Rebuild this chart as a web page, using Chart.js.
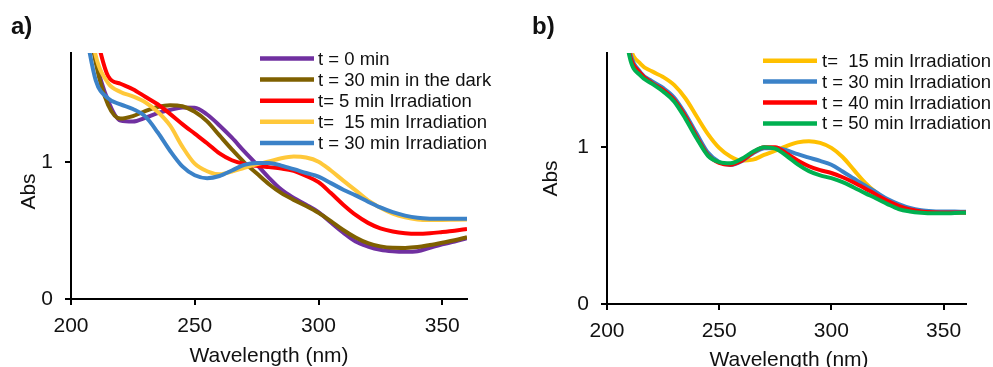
<!DOCTYPE html>
<html><head><meta charset="utf-8">
<script src="https://cdn.jsdelivr.net/npm/chart.js@4"></script>
<style>
html,body{margin:0;padding:0;background:#fff;width:993px;height:367px;overflow:hidden}
#wa{position:absolute;left:0;top:0;width:497px;height:367px}
#wb{position:absolute;left:497px;top:0;width:496px;height:367px}
</style></head><body>
<div id="wa"><canvas id="ca"></canvas></div>
<div id="wb"><canvas id="cb"></canvas></div>
<script>
// Wavelength (nm)
const wavelengths = [205,210,215,220,225,230,235,240,245,250,255,260,265,270,275,280,285,290,295,300,305,310,315,320,325,330,335,340,345,350,355,360];
const xTicks = [200,250,300,350];
const yTicks = [0,1];

// Panel a
const labelsA = ["t = 0 min","t = 30 min in the dark","t= 5 min Irradiation","t=  15 min Irradiation","t = 30 min Irradiation"];
const aT0    = [2.3,1.75,1.45,1.305,1.298,1.325,1.36,1.383,1.401,1.40,1.35,1.27,1.18,1.08,0.985,0.887,0.80,0.74,0.69,0.635,0.56,0.485,0.42,0.384,0.36,0.349,0.345,0.35,0.375,0.40,0.42,0.445];
const aDark  = [2.3,1.73,1.42,1.32,1.338,1.375,1.405,1.418,1.41,1.37,1.30,1.197,1.095,1.0,0.92,0.84,0.775,0.725,0.68,0.63,0.57,0.505,0.45,0.408,0.385,0.375,0.374,0.38,0.395,0.412,0.43,0.452];
const aIrr5  = [2.4,1.95,1.63,1.575,1.535,1.48,1.425,1.355,1.28,1.21,1.14,1.065,1.015,0.988,0.975,0.965,0.955,0.937,0.90,0.855,0.775,0.69,0.615,0.557,0.517,0.494,0.481,0.477,0.481,0.49,0.50,0.512];
const aIrr15 = [2.3,1.78,1.58,1.515,1.483,1.44,1.37,1.27,1.115,0.99,0.935,0.913,0.932,0.96,0.985,1.006,1.03,1.042,1.035,1.005,0.94,0.866,0.795,0.722,0.668,0.625,0.598,0.582,0.578,0.578,0.58,0.582];
const aIrr30 = [2.05,1.6,1.468,1.424,1.39,1.336,1.22,1.085,0.97,0.905,0.884,0.90,0.94,0.982,0.996,0.996,0.976,0.95,0.922,0.895,0.848,0.80,0.758,0.712,0.67,0.635,0.61,0.594,0.588,0.587,0.587,0.587];
const colorsA = ["#7030A0","#7F6000","#FF0000","#FFC83A","#3B82C8"];

// Panel b
const labelsB = ["t=  15 min Irradiation","t = 30 min Irradiation","t = 40 min Irradiation","t = 50 min Irradiation"];
const bIrr15 = [2.2,1.66,1.53,1.483,1.447,1.395,1.31,1.195,1.083,0.995,0.94,0.913,0.92,0.95,0.977,1.007,1.03,1.038,1.027,0.995,0.937,0.855,0.774,0.71,0.657,0.622,0.60,0.589,0.584,0.584,0.584,0.584];
const bIrr30 = [2.1,1.62,1.475,1.42,1.377,1.315,1.21,1.085,0.965,0.905,0.886,0.91,0.96,0.992,0.995,0.98,0.955,0.933,0.912,0.888,0.845,0.80,0.755,0.712,0.669,0.637,0.612,0.598,0.592,0.59,0.589,0.588];
const bIrr40 = [2.1,1.60,1.47,1.41,1.365,1.30,1.195,1.065,0.95,0.90,0.888,0.913,0.965,1.0,1.0,0.96,0.915,0.878,0.853,0.835,0.808,0.775,0.737,0.697,0.658,0.626,0.603,0.59,0.585,0.584,0.584,0.584];
const bIrr50 = [2.1,1.58,1.455,1.405,1.355,1.29,1.18,1.055,0.945,0.905,0.897,0.925,0.97,1.0,0.99,0.945,0.89,0.847,0.82,0.802,0.777,0.743,0.707,0.673,0.637,0.605,0.59,0.582,0.578,0.578,0.58,0.582];
const colorsB = ["#FFC000","#3B82C8","#FF0000","#00B050"];

const FONT = "'Liberation Sans', Arial, sans-serif";
const TXT = "#111";

function mkDatasets(labels, series, colors){
  return series.map((s,i)=>({
    label: labels[i],
    data: wavelengths.map((x,j)=>({x:x, y:s[j]})),
    borderColor: colors[i],
    backgroundColor: colors[i],
    borderWidth: 4,
    pointRadius: 0,
    cubicInterpolationMode: 'monotone',
    fill: false,
    order: series.length - i
  }));
}

const deco = {
  id: 'deco',
  afterDraw(chart, args, o){
    const ctx = chart.ctx;
    ctx.save();
    ctx.fillStyle = TXT;
    // panel letter
    ctx.font = "bold 24px " + FONT;
    ctx.textAlign = 'left'; ctx.textBaseline = 'alphabetic';
    ctx.fillText(o.letter, o.letterX, o.letterY);
    // x title
    ctx.font = "21px " + FONT;
    ctx.textAlign = 'center';
    ctx.fillText('Wavelength (nm)', o.xtX, o.xtY);
    // y title
    ctx.save();
    ctx.translate(o.ytX, o.ytY);
    ctx.rotate(-Math.PI/2);
    ctx.fillText('Abs', 0, 0);
    ctx.restore();
    // legend
    ctx.font = "18.5px " + FONT;
    ctx.textAlign = 'left'; ctx.textBaseline = 'middle';
    chart.data.datasets.forEach((d,i)=>{
      const y = o.legY + i*o.legDy;
      ctx.strokeStyle = d.borderColor;
      ctx.lineWidth = 4.5;
      ctx.beginPath(); ctx.moveTo(o.legX0, y); ctx.lineTo(o.legX1, y); ctx.stroke();
      ctx.fillStyle = TXT;
      ctx.fillText(d.label, o.legTx, y + 1);
    });
    ctx.restore();
  }
};

function mkOptions(yMax, yWidth, xHeight, padRight, decoOpts){
  return {
    responsive: true,
    maintainAspectRatio: false,
    animation: false,
    events: [],
    layout: {padding: {left: 0, right: padRight, top: 53, bottom: 0}},
    plugins: {legend: {display: false}, tooltip: {enabled: false}, deco: decoOpts},
    scales: {
      x: {
        type: 'linear', min: 200, max: 360,
        afterFit(s){ s.height = xHeight; },
        afterBuildTicks(s){ s.ticks = xTicks.map(v=>({value:v})); },
        ticks: {includeBounds: false, stepSize: 50, padding: 9, color: TXT, font: {family: FONT, size: 21}, maxRotation: 0},
        grid: {drawOnChartArea: false, drawTicks: true, tickLength: 6, color: '#000', lineWidth: 2},
        border: {display: true, color: '#000', width: 2}
      },
      y: {
        type: 'linear', min: 0, max: yMax,
        afterFit(s){ s.width = yWidth; },
        afterBuildTicks(s){ s.ticks = yTicks.map(v=>({value:v})); },
        ticks: {includeBounds: false, stepSize: 1, padding: 12, color: TXT, font: {family: FONT, size: 21}},
        grid: {drawOnChartArea: false, drawTicks: true, tickLength: 6, color: '#000', lineWidth: 2},
        border: {display: true, color: '#000', width: 2}
      }
    }
  };
}

new Chart(document.getElementById('ca'), {
  type: 'line',
  data: {datasets: mkDatasets(labelsA, [aT0, aDark, aIrr5, aIrr15, aIrr30], colorsA)},
  options: mkOptions(1.8, 71, 68, 30, {
    letter: 'a)', letterX: 11, letterY: 34,
    xtX: 269, xtY: 362, ytX: 35, ytY: 191.5,
    legX0: 260, legX1: 314, legTx: 318, legY: 58.5, legDy: 21.1
  }),
  plugins: [deco]
});

new Chart(document.getElementById('cb'), {
  type: 'line',
  data: {datasets: mkDatasets(labelsB, [bIrr15, bIrr30, bIrr40, bIrr50], colorsB)},
  options: mkOptions(1.6, 110, 63, 27, {
    letter: 'b)', letterX: 35, letterY: 34,
    xtX: 292, xtY: 366, ytX: 60, ytY: 178.5,
    legX0: 266, legX1: 320, legTx: 325, legY: 60.7, legDy: 20.9
  }),
  plugins: [deco]
});
</script>
</body></html>
